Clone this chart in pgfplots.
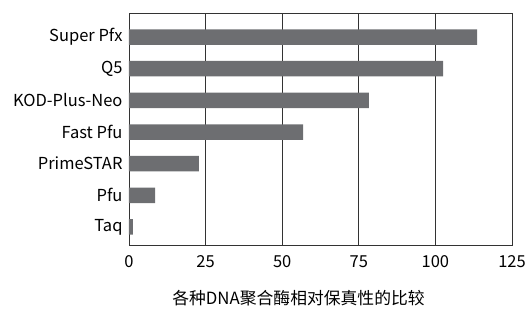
\documentclass[border=0pt]{standalone}
\usepackage{pgfplots}
\pgfplotsset{compat=1.18}
\usepackage{fontspec}
\setmainfont{Noto Sans CJK SC}
\definecolor{barc}{HTML}{6D6E71}
\definecolor{gridc}{HTML}{333333}
\begin{document}
\begin{tikzpicture}
\begin{axis}[
  name=ax,
  scale only axis,
  width=383pt, height=232pt,
  xmin=0, xmax=125,
  ymin=-0.57, ymax=6.76,
  xtick={0,25,50,75,100,125},
  ytick={0,1,2,3,4,5,6},
  yticklabels={Taq,Pfu,PrimeSTAR,Fast Pfu,KOD-Plus-Neo,Q5,Super Pfx},
  major tick length=0pt,
  xmajorgrids,
  grid style={gridc, line width=0.8pt},
  axis line style={gridc, line width=0.8pt},
  tick label style={font=\fontsize{16.5}{18}\selectfont, text=black},
  /pgf/number format/assume math mode=true,
  xticklabel style={yshift=-7pt},
  yticklabel style={xshift=-3pt},
  xlabel={各种DNA聚合酶相对保真性的比较},
  xlabel style={font=\fontsize{16.8}{18}\selectfont, yshift=-16pt, xshift=-22pt},
]
\addplot[xbar, bar width=15.5pt, fill=barc, draw=none] coordinates {
  (1.3,0) (8.5,1) (22.8,2) (56.8,3) (78.3,4) (102.5,5) (113.6,6)
};
\end{axis}
\pgfresetboundingbox
\useasboundingbox ([xshift=-129pt,yshift=13pt]ax.north west) rectangle ([xshift=18pt,yshift=-63pt]ax.south east);
\end{tikzpicture}
\end{document}
